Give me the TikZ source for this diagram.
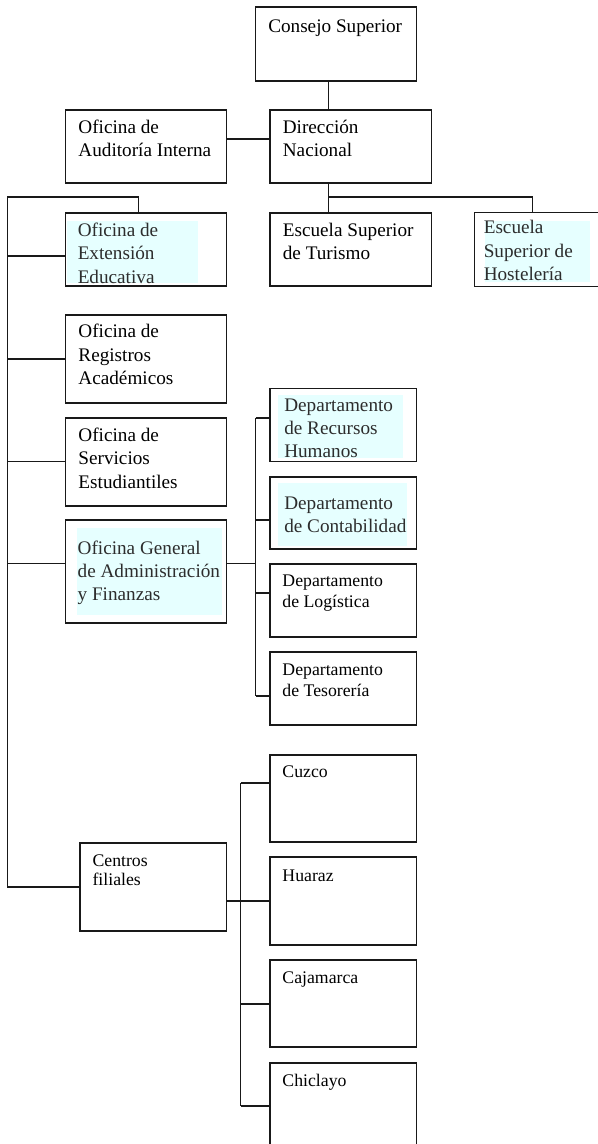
\documentclass[tikz,border=0pt]{standalone}
\usepackage{fontspec}
\setmainfont{Liberation Serif}
\usetikzlibrary{fit}
\definecolor{hl}{RGB}{230,255,255}
\definecolor{ln}{RGB}{25,25,25}
\definecolor{gtx}{RGB}{45,45,45}
\newcommand\mylines[1]{\parbox[t]{300pt}{\raggedright #1}}
\begin{document}
\begin{tikzpicture}[x=0.75pt,y=-0.75pt,
  box/.style={draw=ln, line width=0.9pt, inner sep=0pt, rectangle},
  conn/.style={draw=ln, line width=0.8pt},
  big/.style={inner sep=0pt, anchor=base west, font=\fontsize{14.4}{17.4}\selectfont},
  small/.style={inner sep=0pt, anchor=base west, font=\fontsize{13.3}{15.8}\selectfont},
  tiny/.style={inner sep=0pt, anchor=base west, font=\fontsize{13.3}{14.8}\selectfont},
  hltext/.style={text=gtx}]
\useasboundingbox (0,0) rectangle (598,1144);
\clip (0,0) rectangle (598,1144);

% highlight backgrounds
\fill[hl] (67.4,220.7) rectangle (197.8,283.3);
\fill[hl] (485,220.7) rectangle (590,281.7);
\fill[hl] (278.3,395) rectangle (402.7,458.3);
\fill[hl] (278.3,483.3) rectangle (406.7,545.7);
\fill[hl] (77.3,528.3) rectangle (222.3,615);

% boxes
\node[box, fit={(255.5,7) (416.5,81)}] (consejo) {};
\node[box, fit={(65.6,110) (226.5,183)}] (auditoria) {};
\node[box, fit={(270,110) (431.3,183)}] (direccion) {};
\node[box, fit={(65.6,213) (226.5,286)}] (extension) {};
\node[box, fit={(270,213) (431.3,286)}] (turismo) {};
\node[box, fit={(474.5,212.7) (620,286.7)}] (hosteleria) {};
\node[box, fit={(65.6,315) (226.5,403)}] (registros) {};
\node[box, fit={(65.6,418) (226.5,506)}] (servicios) {};
\node[box, fit={(65.6,520) (226.5,623)}] (admin) {};
\node[box, fit={(270,388.3) (416.5,461.3)}] (rrhh) {};
\node[box, fit={(270,477) (416.5,549)}] (contab) {};
\node[box, fit={(270,564) (416.5,637)}] (logistica) {};
\node[box, fit={(270,652) (416.5,725)}] (tesoreria) {};
\node[box, fit={(80,843) (226.5,931)}] (filiales) {};
\node[box, fit={(270,755) (416.5,842)}] (cuzco) {};
\node[box, fit={(270,857) (416.5,945)}] (huaraz) {};
\node[box, fit={(270,960) (416.5,1047)}] (cajamarca) {};
\node[box, fit={(270,1063) (416.5,1170)}] (chiclayo) {};

% texts
\node[big] (tconsejo) at (268,32.5) {\mylines{Consejo Superior}};
\node[big] (tauditoria) at (78.2,133.3) {\mylines{Oficina de\\Auditoría Interna}};
\node[big] (tdireccion) at (282.6,133.3) {\mylines{Dirección\\Nacional}};
\node[big, hltext] (textension) at (77.5,236.7) {\mylines{Oficina de\\Extensión\\Educativa}};
\node[big] (tturismo) at (282.6,236.7) {\mylines{Escuela Superior\\de Turismo}};
\node[big, hltext] (thosteleria) at (483.5,234) {\mylines{Escuela\\Superior de\\Hostelería}};
\node[big] (tregistros) at (78.2,338) {\mylines{Oficina de\\Registros\\Académicos}};
\node[big] (tservicios) at (78.2,441.7) {\mylines{Oficina de\\Servicios\\Estudiantiles}};
\node[big, hltext] (tadmin) at (77.4,554) {\mylines{Oficina General\\de Administración\\y Finanzas}};
\node[big, hltext] (trrhh) at (284,411) {\mylines{Departamento\\de Recursos\\Humanos}};
\node[big, hltext] (tcontab) at (284,509) {\mylines{Departamento\\de Contabilidad}};
\node[small] (tlogistica) at (282.2,586.7) {\mylines{Departamento\\de Logística}};
\node[small] (ttesoreria) at (282.2,675) {\mylines{Departamento\\de Tesorería}};
\node[tiny] (tfiliales) at (92.3,866) {\mylines{Centros\\filiales}};
\node[small] (tcuzco) at (282.2,777.7) {Cuzco};
\node[small] (thuaraz) at (282.2,881) {Huaraz};
\node[small] (tcajamarca) at (282.2,983) {Cajamarca};
\node[small] (tchiclayo) at (282.2,1086) {Chiclayo};

% junction coordinates
\coordinate (v1) at (328.7,197);
\coordinate (vh) at (532.7,197);
\coordinate (ya) at (0,139);
\coordinate (L0) at (7.6,197);
\coordinate (xe) at (138.4,197);
\coordinate (t1) at (7.6,256);
\coordinate (t2) at (7.6,359);
\coordinate (t3) at (7.6,461.5);
\coordinate (t4) at (7.6,563.5);
\coordinate (a0) at (255.5,563.5);
\coordinate (d1) at (255.5,418);
\coordinate (d2) at (255.5,520);
\coordinate (d3) at (255.5,593);
\coordinate (d4) at (255.5,696);
\coordinate (f0) at (240.7,901);
\coordinate (f1) at (240.7,783);
\coordinate (f3) at (240.7,1004);
\coordinate (f4) at (240.7,1106);

% connectors
\draw[conn] (consejo.south -| v1) -- (direccion.north -| v1);
\draw[conn] (auditoria.east |- ya) -- (direccion.west |- ya);
\draw[conn] (direccion.south -| v1) -- (turismo.north -| v1);
\draw[conn] (v1) -| (hosteleria.north -| vh);
\draw[conn] (extension.north -| xe) |- (L0) |- (filiales.west);
\draw[conn] (t1) -- (extension.west |- t1);
\draw[conn] (t2) -- (registros.west |- t2);
\draw[conn] (t3) -- (servicios.west |- t3);
\draw[conn] (t4) -- (admin.west |- t4);
\draw[conn] (admin.east |- a0) -- (a0);
\draw[conn] (d1) -- (d4);
\draw[conn] (d1) -- (rrhh.west |- d1);
\draw[conn] (d2) -- (contab.west |- d2);
\draw[conn] (d3) -- (logistica.west |- d3);
\draw[conn] (d4) -- (tesoreria.west |- d4);
\draw[conn] (filiales.east |- f0) -- (f0);
\draw[conn] (f1) -- (f4);
\draw[conn] (f1) -- (cuzco.west |- f1);
\draw[conn] (f0) -- (huaraz.west |- f0);
\draw[conn] (f3) -- (cajamarca.west |- f3);
\draw[conn] (f4) -- (chiclayo.west |- f4);
\end{tikzpicture}
\end{document}
